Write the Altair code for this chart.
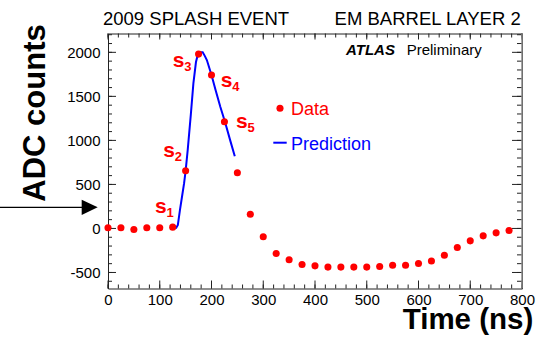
import altair as alt
import pandas as pd

FONT = "Liberation Sans"

# ---- data ----
time_ns = [0, 25, 50, 75, 100, 125, 150, 175, 200, 225, 250, 275, 300, 325, 350, 375,
           400, 425, 450, 475, 500, 525, 550, 575, 600, 625, 650, 675, 700, 725, 750, 775]
adc_counts = [7, 7, -11, 7, 7, 15, 655, 1980, 1742, 1211, 632, 162, -95, -284, -356, -409,
              -425, -439, -439, -439, -439, -432, -417, -417, -398, -370, -305, -216, -141, -84, -50, -23]

pred_time = [131, 135, 139, 143, 147, 150, 154, 160, 165, 170, 174, 178, 183, 187, 191,
             200, 208, 217, 226, 236, 245]
pred_adc = [0, 40, 208, 360, 511, 655, 890, 1290, 1648, 1890, 1985, 2000, 2000, 1960, 1913,
            1742, 1570, 1382, 1211, 1003, 821]

sample_labels = ["1", "2", "3", "4", "5"]
label_time = [91, 107, 125, 218, 247.5]
label_adc = [170, 814, 1836, 1609, 1136]

x_tick_labels = [0, 100, 200, 300, 400, 500, 600, 700, 800]
y_tick_labels = [-500, 0, 500, 1000, 1500, 2000]
x_minor = list(range(0, 801, 20))
y_major = [-500, 0, 500, 1000, 1500, 2000]
y_minor = list(range(-600, 2201, 100))

title_left = "2009 SPLASH EVENT"
title_right = "EM BARREL LAYER 2"
x_title = "Time (ns)"
y_title = "ADC counts"

W, H = 414, 255
RED, BLUE = "#ff0000", "#0000ff"
xs = alt.Scale(domain=[0, 800], nice=False, zero=False)
ys = alt.Scale(domain=[-682, 2214], nice=False, zero=False)

df = pd.DataFrame({"t": time_ns, "adc": adc_counts})
dpred = pd.DataFrame({"t": pred_time, "adc": pred_adc})
dlab = pd.DataFrame({"t": label_time, "adc": label_adc, "s": ["s"] * 5, "n": sample_labels})
one = pd.DataFrame({"a": [0]})

xaxis = alt.Axis(values=x_tick_labels, ticks=False, domain=False, grid=False, title=None,
                 labelFontSize=15, labelFont=FONT, labelColor="black", labelPadding=4,
                 labelFlush=False, labelOverlap=False, labelExpr="toString(datum.value)")
yaxis = alt.Axis(values=y_tick_labels, ticks=False, domain=False, grid=False, title=None,
                 labelFontSize=15, labelFont=FONT, labelColor="black", labelPadding=8,
                 labelFlush=False, labelOverlap=False, labelExpr="toString(datum.value)")

X = lambda f: alt.X(f, scale=xs, axis=xaxis)
Y = lambda f: alt.Y(f, scale=ys, axis=yaxis)


def xticks(vals, y0, y1):
    return alt.Chart(pd.DataFrame({"t": vals})).mark_rule(color="#222", strokeWidth=1).encode(
        x=X("t:Q"), y=alt.value(y0), y2=alt.value(y1))


def yticks(vals, x0, x1):
    return alt.Chart(pd.DataFrame({"adc": vals})).mark_rule(color="#222", strokeWidth=1).encode(
        y=Y("adc:Q"), x=alt.value(x0), x2=alt.value(x1))


ticks = [
    xticks(x_tick_labels, H, H - 8), xticks(x_minor, H, H - 4),
    xticks(x_tick_labels, 0, 6), xticks(x_minor, 0, 4),
    yticks(y_major, 0, 8), yticks(y_minor, 0, 4),
    yticks(y_major, W - 10, W), yticks(y_minor, W - 5, W),
]

points = alt.Chart(df).mark_circle(color=RED, size=50, opacity=1).encode(
    x=X("t:Q"), y=Y("adc:Q"))
line = alt.Chart(dpred).mark_line(color=BLUE, strokeWidth=2).encode(
    x=X("t:Q"), y=Y("adc:Q"))

right_edge = alt.Chart(one).mark_rule(color="#8a8a8a", strokeWidth=1.5).encode(
    x=alt.value(W), y=alt.value(0), y2=alt.value(H))

s_text = alt.Chart(dlab).mark_text(align="left", baseline="alphabetic", font=FONT,
                                   fontWeight="bold", fontSize=21, color=RED).encode(
    x=X("t:Q"), y=Y("adc:Q"), text="s:N")
n_text = alt.Chart(dlab).mark_text(align="left", baseline="alphabetic", font=FONT,
                                   fontWeight="bold", fontSize=13, color=RED, dx=11.5, dy=4).encode(
    x=X("t:Q"), y=Y("adc:Q"), text="n:N")


def label(txt, x, y, **kw):
    opts = dict(font=FONT, baseline="alphabetic", align="left", color="black")
    opts.update(kw)
    return alt.Chart(one).mark_text(text=txt, **opts).encode(x=alt.value(x), y=alt.value(y))


texts = [
    label(title_left, -5, -8.5, fontSize=18.5),
    label(title_right, 412.7, -8.5, fontSize=18.5, align="right"),
    label("ATLAS", 238, 21.5, fontSize=15, fontWeight="bold", fontStyle="italic"),
    label("Preliminary", 298.7, 21.5, fontSize=15),
    label("Data", 183, 81.5, fontSize=18, color=RED),
    label("Prediction", 183, 116.5, fontSize=18, color=BLUE),
    label(x_title, 425.3, 295, fontSize=29.5, fontWeight="bold", align="right"),
    label(y_title, -63, 79.5, fontSize=31, fontWeight="bold", align="center", angle=270),
]

legend_dot = alt.Chart(one).mark_circle(color=RED, size=50, opacity=1).encode(
    x=alt.value(172), y=alt.value(74.8))
legend_line = alt.Chart(one).mark_rule(color=BLUE, strokeWidth=2).encode(
    x=alt.value(165.3), x2=alt.value(178.7), y=alt.value(109.2))

arrow_line = alt.Chart(one).mark_rule(color="black", strokeWidth=1.3).encode(
    x=alt.value(-108), x2=alt.value(-26), y=alt.value(173.8))
arrow_head = alt.Chart(one).mark_point(shape="M-1,-0.95L1,0L-1,0.95Z", filled=True, size=256,
                                       color="black", opacity=1).encode(
    x=alt.value(-18.3), y=alt.value(173.8))

chart = alt.layer(
    *ticks, right_edge, line, points, s_text, n_text, *texts,
    legend_dot, legend_line, arrow_line, arrow_head
).properties(
    width=W, height=H,
    autosize=alt.AutoSizeParams(type="none"),
    padding={"left": 108, "top": 33.5, "right": 20, "bottom": 48.5},
    background="white",
).configure_view(stroke="#222", strokeWidth=1)

chart.save("out.html", embed_options={"renderer": "svg", "actions": False})
